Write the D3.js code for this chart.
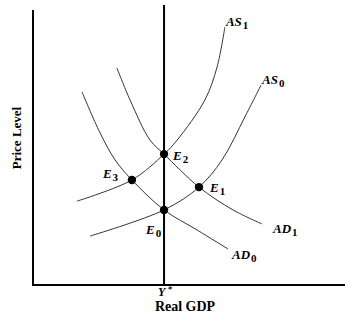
<!DOCTYPE html>
<html>
<head>
<meta charset="utf-8">
<script src="https://cdn.jsdelivr.net/npm/d3@7"></script>
<style>
  body { margin: 0; background: #fff; }
  text { font-family: "Liberation Serif", "DejaVu Serif", serif; fill: #000; }
</style>
</head>
<body>
<svg id="chart" width="345" height="320"></svg>
<script>
// curves, in chart units (x: real GDP, y: price level)
const as1 = [[14.1, 30.5], [31.7, 38.2], [42, 47.6], [46.2, 52.7], [55.1, 67.3], [59, 79.3], [61.5, 93.8]];
const as0 = [[18.3, 17.8], [42, 27.3], [53.2, 35.6], [60.6, 45.5], [67.9, 61.1], [73.1, 72.7]];
const ad1 = [[26.9, 78.9], [31.1, 67.3], [37.5, 52.7], [42, 47.6], [53.2, 35.6], [64.1, 27.3], [73.4, 22.2]];
const ad0 = [[15.7, 70.2], [21.5, 55.3], [26.3, 45.5], [31.7, 38.2], [42, 27.3], [52.6, 20], [62.5, 13.1]];

const yStar = 42;
const points = [
  { name: "E", sub: "0", x: 42, y: 27.3 },
  { name: "E", sub: "1", x: 53.2, y: 35.6 },
  { name: "E", sub: "2", x: 42, y: 47.6 },
  { name: "E", sub: "3", x: 31.7, y: 38.2 }
];

const svg = d3.select("#chart");
const x = d3.scaleLinear().domain([0, 100]).range([33, 345]);
const y = d3.scaleLinear().domain([0, 100]).range([285, 10]);

// axes
svg.append("line").attr("x1", x(0)).attr("x2", x(0)).attr("y1", 10).attr("y2", y(0))
  .attr("stroke", "#000").attr("stroke-width", 2);
svg.append("line").attr("x1", x(0) - 1).attr("x2", 345).attr("y1", y(0)).attr("y2", y(0))
  .attr("stroke", "#000").attr("stroke-width", 2);
// Y* line
svg.append("line").attr("x1", x(yStar)).attr("x2", x(yStar)).attr("y1", 5).attr("y2", y(0))
  .attr("stroke", "#000").attr("stroke-width", 2);

const line = d3.line().x(d => x(d[0])).y(d => y(d[1])).curve(d3.curveCatmullRom);
[as1, as0, ad1, ad0].forEach(c => {
  svg.append("path").attr("d", line(c)).attr("fill", "none")
    .attr("stroke", "#333").attr("stroke-width", 1);
});

svg.selectAll("circle.pt").data(points).enter().append("circle")
  .attr("class", "pt").attr("cx", d => x(d.x)).attr("cy", d => y(d.y)).attr("r", 4.2)
  .attr("fill", "#000");

function label(px, py, main, sub) {
  const t = svg.append("text").attr("x", px).attr("y", py)
    .attr("font-style", "italic").attr("font-weight", "bold").attr("font-size", 13);
  t.append("tspan").text(main);
  t.append("tspan").attr("dy", 3).attr("dx", 1).attr("font-size", 11).attr("font-style", "normal").text(sub);
}

const offs = { "0": [-18, 24], "1": [11, 5], "2": [9, 6], "3": [-29, -2] };
points.forEach(p => label(x(p.x) + offs[p.sub][0], y(p.y) + offs[p.sub][1], p.name, p.sub));

label(x(as1[as1.length - 1][0]) + 1, y(as1[as1.length - 1][1]) - 1, "AS", "1");
label(x(as0[as0.length - 1][0]) + 1, y(as0[as0.length - 1][1]) - 1, "AS", "0");
label(x(ad1[ad1.length - 1][0]) + 11, y(ad1[ad1.length - 1][1]) + 9, "AD", "1");
label(x(ad0[ad0.length - 1][0]) + 4, y(ad0[ad0.length - 1][1]) + 10, "AD", "0");

const ys = svg.append("text").attr("x", x(yStar) - 6).attr("y", 296)
  .attr("font-style", "italic").attr("font-weight", "bold").attr("font-size", 12);
ys.append("tspan").text("Y");
ys.append("tspan").attr("dy", -4).attr("dx", 2).attr("font-size", 9).text("*");
svg.append("text").attr("x", x(yStar) + 21).attr("y", 311).attr("text-anchor", "middle")
  .attr("font-weight", "bold").attr("font-size", 14).text("Real GDP");
svg.append("text").attr("transform", "translate(21,138) rotate(-90)").attr("text-anchor", "middle")
  .attr("font-weight", "bold").attr("font-size", 13).text("Price Level");
</script>
</body>
</html>
